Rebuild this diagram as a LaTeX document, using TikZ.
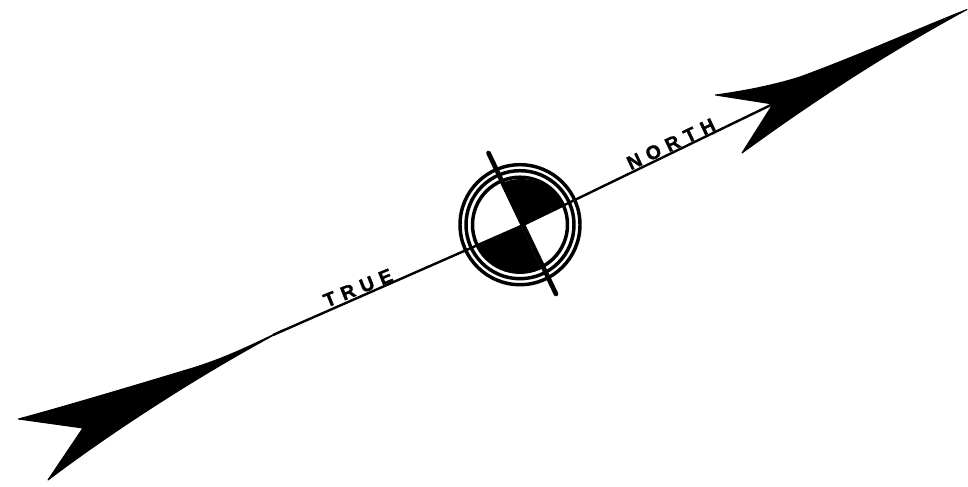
\documentclass[tikz,border=0pt]{standalone}
\usepackage{fontspec}
\newfontfamily\platefont[LetterSpace=34,BoldFeatures={FakeBold=1.6}]{Liberation Sans}

\begin{document}
\begin{tikzpicture}[
      x=0.75pt,y=-0.75pt,
      shaft/.style={line width=1.8pt,black},
      crossbar/.style={line width=3.5pt,black,line cap=round},
      ring/.style={draw=black,line width=2.6pt},
      barb/.style={fill=black,draw=black,line width=0.8pt,line join=round},
      sector/.style={fill=black},
      word/.style={font=\platefont\bfseries\fontsize{14.5}{14.5}\selectfont,inner sep=0pt}
    ]
      \useasboundingbox (0,0) rectangle (968,486);
      \coordinate (hub) at (521,226);
      \coordinate (ringmid) at (520,224.7);
      \coordinate (southtail) at (273,335);
      \coordinate (northnotch) at (773,104);
      \coordinate (bartop) at (488.5,153);
      \coordinate (barbottom) at (556,294);
      % black quarters
      \fill[sector] (hub) -- ++(-25.8:47) arc[start angle=-25.8,end angle=-115.5,radius=47] -- cycle;
      \fill[sector] (hub) -- ++(156.2:47) arc[start angle=156.2,end angle=64.5,radius=47] -- cycle;
      % rings
      \draw[ring] (ringmid) circle[radius=60];
      \draw[ring] (ringmid) circle[radius=54];
      \draw[ring] (ringmid) circle[radius=47.5];
      % shaft and bar
      \draw[shaft] (southtail) -- (hub) -- (northnotch);
      \draw[crossbar] (bartop) -- (barbottom);
      % arrow heads
      \draw[barb] (967,9.5) .. controls (915,30) and (860,55) .. (800,77)
        .. controls (775,85) and (745,91) .. (715.5,95)
        -- (773,104) -- (742,153)
        .. controls (790,118) and (870,62) .. (967,9.5) -- cycle;
      \draw[barb] (285,329) .. controls (250,346) and (225,358) .. (193,368)
        .. controls (140,384) and (70,405) .. (18.5,419)
        -- (83,428) -- (48,480)
        .. controls (90,448) and (180,385) .. (285,329) -- cycle;
      % labels
      \node[word,rotate=22] (true) at (358,288) {TRUE};
      \node[word,rotate=25.3] (north) at (671,144) {NORTH};
    \end{tikzpicture}
\end{document}
